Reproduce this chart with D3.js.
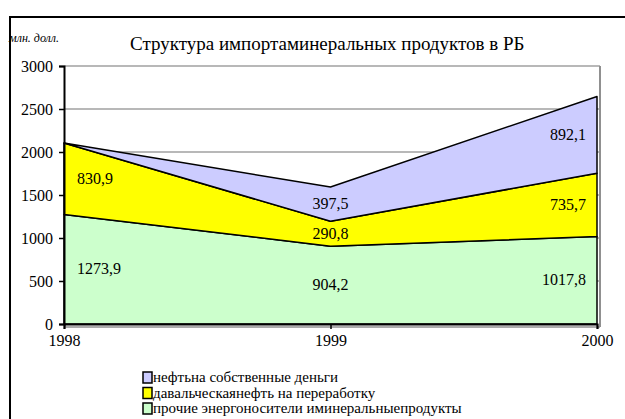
<!DOCTYPE html>
<html>
<head>
<meta charset="utf-8">
<script src="https://cdn.jsdelivr.net/npm/d3@7"></script>
<style>
  text { font-family: 'Liberation Serif' !important; }
</style>
</head>
<body style="margin:0;background:#fff">
<svg id="chart" width="625" height="419" font-family="Liberation Serif"></svg>
<script>
// data
const years = [1998, 1999, 2000];
const seriesNames = [
  "прочие  энергоносители иминеральныепродукты",
  "давальческаянефть на переработку",
  "нефтьна собственные деньги"
];
const otherEnergy = [1273.9, 904.2, 1017.8];
const tollingOil = [830.9, 290.8, 735.7];
const ownOil = [0, 397.5, 892.1];
const labelText = [
  ["1273,9", "904,2", "1017,8"],
  ["830,9", "290,8", "735,7"],
  ["", "397,5", "892,1"]
];
const yTicks = [0, 500, 1000, 1500, 2000, 2500, 3000];
const colors = ["#ccffcc", "#ffff00", "#ccccff"];

const svg = d3.select("#chart");

// outer frame
svg.append("rect")
  .attr("x", 10).attr("y", 17)
  .attr("width", 640).attr("height", 420)
  .attr("fill", "none").attr("stroke", "#000").attr("stroke-width", 2);

const pLeft = 64, pRight = 597, pTop = 66, pBottom = 324;

const x = d3.scaleLinear().domain([1998, 2000]).range([pLeft, pRight]);
const y = d3.scaleLinear().domain([0, 3000]).range([pBottom, pTop]);

// gridlines
svg.append("g").selectAll("line")
  .data(yTicks.filter(d => d > 0))
  .join("line")
  .attr("x1", pLeft).attr("x2", pRight + 3)
  .attr("y1", d => y(d)).attr("y2", d => y(d))
  .attr("stroke", "#a0a0a0").attr("stroke-width", 1.5);

// plot frame (right side and bottom double line)
svg.append("line")
  .attr("x1", pRight + 3).attr("x2", pRight + 3)
  .attr("y1", pTop).attr("y2", pBottom + 3)
  .attr("stroke", "#909090").attr("stroke-width", 2);
svg.append("line")
  .attr("x1", pLeft).attr("x2", pRight + 3)
  .attr("y1", pBottom + 3).attr("y2", pBottom + 3)
  .attr("stroke", "#909090").attr("stroke-width", 1.5);

// stacked areas
const rows = years.map((yr, i) => ({ year: yr, a: otherEnergy[i], b: tollingOil[i], c: ownOil[i] }));
const stack = d3.stack().keys(["a", "b", "c"]);
const layers = stack(rows);

const area = d3.area()
  .x(d => x(d.data.year))
  .y0(d => y(d[0]))
  .y1(d => y(d[1]));

svg.append("g").selectAll("path")
  .data(layers)
  .join("path")
  .attr("d", area)
  .attr("fill", (d, i) => colors[i])
  .attr("stroke", "#000")
  .attr("stroke-width", 1.5)
  .attr("stroke-linejoin", "round");

// data labels
const lbl = svg.append("g");
layers.forEach((layer, si) => {
  layer.forEach((d, i) => {
    const t = labelText[si][i];
    if (!t) return;
    let anchor = "middle", px = x(d.data.year);
    if (i === 0) { anchor = "start"; px += 13; }
    if (i === 2) { anchor = "end"; px -= 11; }
    lbl.append("text")
      .attr("x", px)
      .attr("y", y((d[0] + d[1]) / 2) + 5)
      .attr("text-anchor", anchor)
      .attr("font-size", 16)
      .text(t);
  });
});

// y axis
const yAxis = svg.append("g")
  .attr("transform", `translate(${pLeft},0)`)
  .call(d3.axisLeft(y).tickValues(yTicks).tickSize(5).tickPadding(6).tickFormat(d3.format("d")))
  .attr("font-family", "Liberation Serif").attr("font-size", 16);
yAxis.select(".domain").attr("stroke", "#000").attr("stroke-width", 2);
yAxis.selectAll(".tick line").attr("stroke", "#000").attr("stroke-width", 1.5);

// x axis
const xAxis = svg.append("g")
  .attr("transform", `translate(0,${pBottom})`)
  .call(d3.axisBottom(x).tickValues(years).tickSize(5).tickPadding(6).tickFormat(d3.format("d")))
  .attr("font-family", "Liberation Serif").attr("font-size", 16);
xAxis.select(".domain").attr("stroke", "#000").attr("stroke-width", 2);
xAxis.selectAll(".tick line").attr("stroke", "#000").attr("stroke-width", 1.5);

// titles
svg.append("text")
  .attr("x", 9).attr("y", 42)
  .attr("font-size", 12).attr("font-style", "italic")
  .text("млн. долл.");
svg.append("text")
  .attr("x", 130).attr("y", 50)
  .attr("font-size", 19)
  .text("Структура импортаминеральных продуктов в РБ");

// legend (top entry is the top layer)
const legendOrder = [2, 1, 0];
const leg = svg.append("g").selectAll("g")
  .data(legendOrder)
  .join("g")
  .attr("transform", (d, i) => `translate(143,${372 + i * 15.5})`);
leg.append("rect")
  .attr("width", 9).attr("height", 11)
  .attr("fill", d => colors[d])
  .attr("stroke", "#000").attr("stroke-width", 1.5);
leg.append("text")
  .attr("x", 10).attr("y", 10)
  .attr("font-size", 15)
  .text(d => seriesNames[d]);

svg.selectAll("text").attr("fill", "#000");
</script>
</body>
</html>
